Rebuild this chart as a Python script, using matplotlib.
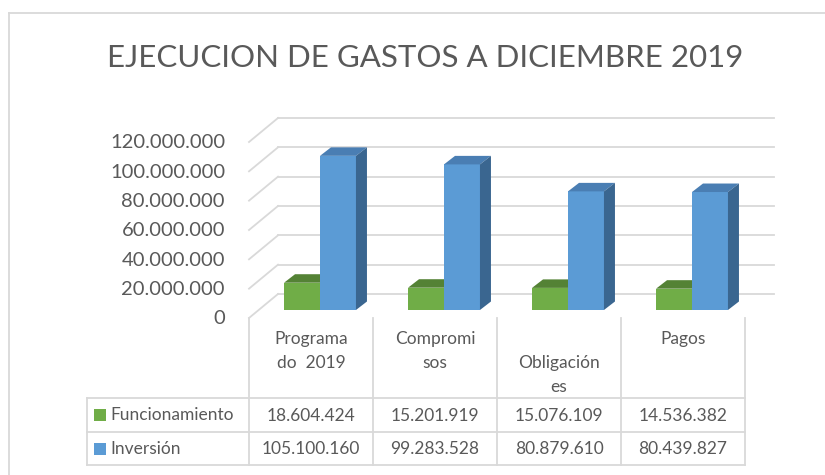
import matplotlib.pyplot as plt
from matplotlib.patches import Polygon, Rectangle

plt.rcParams['font.family'] = ['Lato', 'DejaVu Sans']

# Datos de ejecución presupuestal
categorias = ["Programa\ndo  2019", "Compromi\nsos", "\nObligación\nes", "Pagos"]
series = ["Funcionamiento", "Inversión"]
funcionamiento = [18604424, 15201919, 15076109, 14536382]
inversion = [105100160, 99283528, 80879610, 80439827]
marcas_y = [0, 20000000, 40000000, 60000000, 80000000, 100000000, 120000000]

valores = [funcionamiento, inversion]
# frente, tapa, lateral
colores = [("#70AD47", "#548235", "#4E7A30"),
           ("#5B9BD5", "#4A7EB3", "#3A6690")]
GRIS = "#D9D9D9"
TEXTO = "#595959"

W, H = 825, 475
fig = plt.figure(figsize=(W / 100, H / 100), dpi=100)

# capa en pixeles para marco, titulo y tabla
ov = fig.add_axes([0, 0, 1, 1])
ov.set_xlim(0, W)
ov.set_ylim(H, 0)
ov.axis("off")

# plano de las barras (pixeles)
AX_L, AX_R, AX_Y0, AX_Y1 = 258, 754, 310, 134
ncat = len(categorias)
ymax = marcas_y[-1]
ax = fig.add_axes([AX_L / W, 1 - AX_Y0 / H, (AX_R - AX_L) / W, (AX_Y0 - AX_Y1) / H])
ax.set_xlim(-0.5, ncat - 0.5)
ax.set_ylim(0, ymax)
ax.axis("off")

cat_px = (AX_R - AX_L) / ncat


def ux(px):
    return px / cat_px


def uy(px):
    return px * ymax / (AX_Y0 - AX_Y1)


# desplazamientos de profundidad
fx, fy = ux(-9), uy(-8)      # plano frontal
bx, by = ux(20), uy(16)      # pared del fondo
ddx, ddy = ux(11), uy(8.5)   # profundidad de cada barra

# pared del fondo y pared lateral
for t in marcas_y:
    ax.plot([-0.5 + bx, ncat - 0.5 + bx], [t + by, t + by], color=GRIS,
            lw=1.3, clip_on=False, zorder=1)
    ax.plot([-0.5 + fx, -0.5 + bx], [t + fy, t + by], color=GRIS,
            lw=1.3, clip_on=False, zorder=1)
    ax.text(-0.5 + fx - ux(24), t + fy - uy(6.5), f"{t:,}".replace(",", "."),
            ha="right", va="baseline", fontsize=14.5, color=TEXTO)

# barras con efecto 3D
w = 0.29
for s, vals in enumerate(valores):
    frente, tapa, lado = colores[s]
    for i, v in enumerate(vals):
        x0 = i - w + s * w
        ax.bar(x0, v, width=w, align="edge", color=frente, lw=0, zorder=3 + s * 3)
        ax.add_patch(Polygon([(x0, v), (x0 + w, v), (x0 + w + ddx, v + ddy),
                              (x0 + ddx, v + ddy)], closed=True, color=tapa,
                             lw=0, clip_on=False, zorder=4 + s * 3))
        ax.add_patch(Polygon([(x0 + w, 0), (x0 + w, v), (x0 + w + ddx, v + ddy),
                              (x0 + w + ddx, ddy)], closed=True, color=lado,
                             lw=0, clip_on=False, zorder=4 + s * 3))

# marco exterior
ov.plot([9, W], [13, 13], color=GRIS, lw=1.3)
ov.plot([9, 9], [13, H], color=GRIS, lw=1.3)

# titulo
ov.text(425, 67, "EJECUCION DE GASTOS A DICIEMBRE 2019", ha="center",
        va="baseline", fontsize=22.5, color=TEXTO)

# tabla de datos
col_x = [AX_L + i * cat_px - 9 for i in range(ncat + 1)]
T_TOP, R1, R2, R3 = 318, 398, 432, 465
T_LEFT = 87
for x in col_x:
    ov.plot([x, x], [T_TOP, R3], color=GRIS, lw=1.3)
ov.plot([T_LEFT, T_LEFT], [R1, R3], color=GRIS, lw=1.3)
for y in (R1, R2, R3):
    ov.plot([T_LEFT, col_x[-1]], [y, y], color=GRIS, lw=1.3)

for i, cat in enumerate(categorias):
    ov.text((col_x[i] + col_x[i + 1]) / 2, 331, cat, ha="center", va="top",
            fontsize=12.5, color=TEXTO, linespacing=1.6)

for s, (nombre, vals) in enumerate(zip(series, valores)):
    yc = [(R1 + R2) / 2, (R2 + R3) / 2][s]
    ov.add_patch(Rectangle((94, yc - 6), 12, 12, color=colores[s][0], lw=0))
    ov.text(110, yc + 5.5, nombre, ha="left", va="baseline", fontsize=12.5,
            color=TEXTO)
    for i, v in enumerate(vals):
        ov.text((col_x[i] + col_x[i + 1]) / 2, yc + 6, f"{v:,}".replace(",", "."),
                ha="center", va="baseline", fontsize=12.5, color=TEXTO)

fig.savefig("out.png", dpi=100)
